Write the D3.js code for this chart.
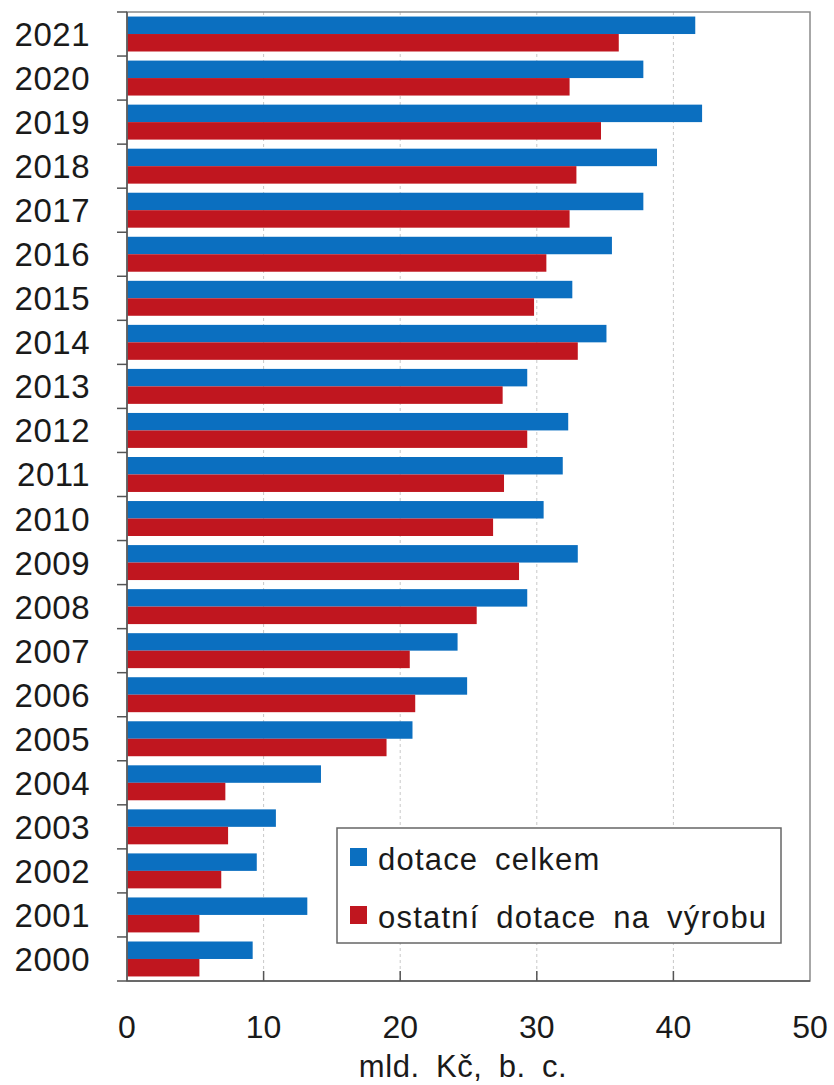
<!DOCTYPE html>
<html>
<head>
<meta charset="utf-8">
<script src="https://cdn.jsdelivr.net/npm/d3@7"></script>
<style>
  body { margin: 0; background: #fff; }
  text { font-family: 'Liberation Sans', Arial, sans-serif; fill: #1a1a1a; }
</style>
</head>
<body>
<div id="chart-area"></div>
<script>
// data (mld. Kč, b. c.)
const years = ['2000', '2001', '2002', '2003', '2004', '2005', '2006', '2007', '2008', '2009', '2010',
  '2011', '2012', '2013', '2014', '2015', '2016', '2017', '2018', '2019', '2020', '2021'];
const dotaceCelkem = [9.2, 13.2, 9.5, 10.9, 14.2, 20.9, 24.9, 24.2, 29.3, 33.0, 30.5,
  31.9, 32.3, 29.3, 35.1, 32.6, 35.5, 37.8, 38.8, 42.1, 37.8, 41.6];
const ostatniDotace = [5.3, 5.3, 6.9, 7.4, 7.2, 19.0, 21.1, 20.7, 25.6, 28.7, 26.8,
  27.6, 29.3, 27.5, 33.0, 29.8, 30.7, 32.4, 32.9, 34.7, 32.4, 36.0];
const seriesNames = ['dotace celkem', 'ostatní dotace na výrobu'];
const seriesColors = ['#0b6fc0', '#c0161f'];
const xTicks = [0, 10, 20, 30, 40, 50];
const axisTitle = 'mld. Kč, b. c.';

let width = 834;
let height = 1085;
let plot = { left: 127, right: 810, top: 12, bottom: 981 };

let rows = years.map((y, i) => ({ year: y, values: [dotaceCelkem[i], ostatniDotace[i]] }));

let xScale = d3.scaleLinear().domain([0, 50]).range([plot.left, plot.right]);

//newest year at the top
let yScale = d3
  .scaleBand()
  .domain(years.slice().reverse())
  .range([plot.top, plot.bottom]);

let ySub = d3
  .scaleBand()
  .domain(seriesNames)
  .range([0, yScale.bandwidth()])
  .paddingInner(0)
  .paddingOuter(0.26);

let chart = d3
  .select('#chart-area')
  .append('svg')
  .attr('width', width)
  .attr('height', height);

chart.append('rect').attr('width', width).attr('height', height).attr('fill', '#fff');

//grid lines
chart
  .append('g')
  .selectAll('line')
  .data(xTicks.slice(1, -1))
  .enter()
  .append('line')
  .attr('x1', (d) => xScale(d))
  .attr('x2', (d) => xScale(d))
  .attr('y1', plot.top)
  .attr('y2', plot.bottom)
  .attr('stroke', '#c8c8c8')
  .attr('stroke-width', 1)
  .attr('stroke-dasharray', '3,3');

//bars
let groups = chart
  .append('g')
  .selectAll('g')
  .data(rows)
  .enter()
  .append('g')
  .attr('transform', (d) => `translate(0, ${yScale(d.year)})`);

groups
  .selectAll('rect')
  .data((d) => d.values.map((v, i) => ({ v: v, s: seriesNames[i], c: seriesColors[i] })))
  .enter()
  .append('rect')
  .attr('x', xScale(0))
  .attr('y', (d) => ySub(d.s))
  .attr('width', (d) => xScale(d.v) - xScale(0))
  .attr('height', ySub.bandwidth())
  .attr('fill', (d) => d.c);

//frame
chart
  .append('rect')
  .attr('x', plot.left)
  .attr('y', plot.top)
  .attr('width', plot.right - plot.left)
  .attr('height', plot.bottom - plot.top)
  .attr('fill', 'none')
  .attr('stroke', '#8a8a8a')
  .attr('stroke-width', 1.5);

//y axis, ticks on band edges
let yAxis = chart.append('g').attr('transform', `translate(${plot.left}, 0)`);
yAxis
  .append('line')
  .attr('y1', plot.top)
  .attr('y2', plot.bottom)
  .attr('stroke', '#555')
  .attr('stroke-width', 1.5);
let edges = years.map((y) => yScale(y)).concat([plot.bottom]);
yAxis
  .selectAll('.edge')
  .data(edges)
  .enter()
  .append('line')
  .attr('class', 'edge')
  .attr('x1', -10)
  .attr('x2', 0)
  .attr('y1', (d) => d)
  .attr('y2', (d) => d)
  .attr('stroke', '#555')
  .attr('stroke-width', 1.5);
yAxis
  .selectAll('text')
  .data(years)
  .enter()
  .append('text')
  .attr('x', -37)
  .attr('y', (d) => yScale(d) + yScale.bandwidth() / 2 + 12)
  .attr('text-anchor', 'end')
  .style('font-size', '33px')
  .style('letter-spacing', '0.5px')
  .text((d) => d);

//x axis
let xAxis = chart.append('g');
xAxis
  .append('line')
  .attr('x1', plot.left)
  .attr('x2', plot.right)
  .attr('y1', plot.bottom)
  .attr('y2', plot.bottom)
  .attr('stroke', '#555')
  .attr('stroke-width', 1.5);
xAxis
  .selectAll('.tick')
  .data(xTicks.slice(1, -1))
  .enter()
  .append('line')
  .attr('class', 'tick')
  .attr('x1', (d) => xScale(d))
  .attr('x2', (d) => xScale(d))
  .attr('y1', plot.bottom - 10)
  .attr('y2', plot.bottom)
  .attr('stroke', '#555')
  .attr('stroke-width', 1.5);
xAxis
  .selectAll('text')
  .data(xTicks)
  .enter()
  .append('text')
  .attr('x', (d) => xScale(d))
  .attr('y', 1038)
  .attr('text-anchor', 'middle')
  .style('font-size', '32px')
  .text((d) => d);
xAxis
  .append('text')
  .attr('x', 463)
  .attr('y', 1077)
  .attr('text-anchor', 'middle')
  .style('font-size', '31px')
  .style('letter-spacing', '0.6px')
  .style('word-spacing', '7px')
  .text(axisTitle);

//legend
let legend = chart.append('g');
legend
  .append('rect')
  .attr('x', 337)
  .attr('y', 828)
  .attr('width', 444)
  .attr('height', 115)
  .attr('fill', '#fff')
  .attr('stroke', '#666')
  .attr('stroke-width', 1.5);
let items = legend
  .selectAll('.item')
  .data(seriesNames)
  .enter()
  .append('g')
  .attr('class', 'item')
  .attr('transform', (d, i) => `translate(350, ${848 + i * 58})`);
items
  .append('rect')
  .attr('width', 17)
  .attr('height', 18)
  .attr('fill', (d, i) => seriesColors[i]);
items
  .append('text')
  .attr('x', 28)
  .attr('y', 22)
  .style('font-size', '31px')
  .style('letter-spacing', '1.2px')
  .style('word-spacing', '7px')
  .text((d) => d);
</script>
</body>
</html>
